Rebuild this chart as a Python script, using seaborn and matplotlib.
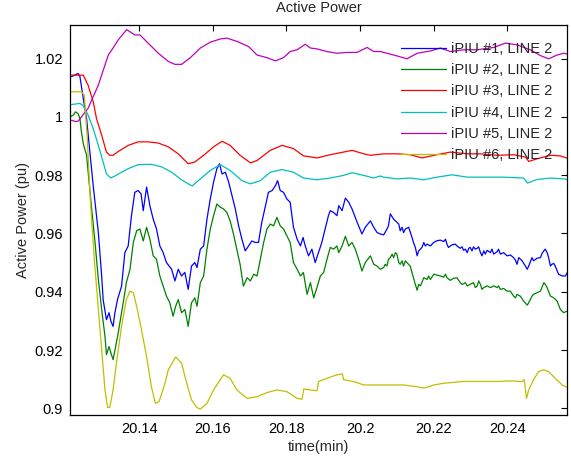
import numpy as np
import pandas as pd
import matplotlib
matplotlib.use("Agg")
import matplotlib.pyplot as plt
import seaborn as sns
from matplotlib.ticker import FormatStrFormatter, MultipleLocator

# traces (time in min, power in pu)
blue_t = [20.1216, 20.1225, 20.1234, 20.1239, 20.1248, 20.1257, 20.1266, 20.1275, 20.1289, 20.1298,
          20.1302, 20.1311, 20.1318, 20.1323, 20.1329, 20.1334, 20.1341, 20.1352, 20.1361, 20.1370,
          20.1379, 20.1388, 20.1397, 20.1405, 20.1411, 20.1420, 20.1429, 20.1438, 20.1447, 20.1456,
          20.1465, 20.1474, 20.1488, 20.1497, 20.1506, 20.1515, 20.1524, 20.1533, 20.1542, 20.1551,
          20.1557, 20.1566, 20.1575, 20.1584, 20.1593, 20.1602, 20.1611, 20.1618, 20.1625, 20.1634,
          20.1643, 20.1652, 20.1661, 20.1670, 20.1679, 20.1688, 20.1697, 20.1706, 20.1715, 20.1724,
          20.1733, 20.1742, 20.1751, 20.1761, 20.1770, 20.1776, 20.1783, 20.1792, 20.1801, 20.1810,
          20.1819, 20.1829, 20.1838, 20.1845, 20.1851, 20.1860, 20.1869, 20.1878, 20.1887, 20.1896,
          20.1905, 20.1914, 20.1919, 20.1928, 20.1937, 20.1942, 20.1951, 20.1960, 20.1969, 20.1978,
          20.1992, 20.2005, 20.2014, 20.2028, 20.2037, 20.2046, 20.2055, 20.2064, 20.2073, 20.2077,
          20.2082, 20.2091, 20.2105, 20.2109, 20.2114, 20.2118, 20.2123, 20.2132, 20.2141, 20.2145,
          20.2150, 20.2155, 20.2159, 20.2164, 20.2168, 20.2173, 20.2177, 20.2182, 20.2191, 20.2200,
          20.2209, 20.2218, 20.2227, 20.2232, 20.2236, 20.2240, 20.2250, 20.2259, 20.2263, 20.2272,
          20.2277, 20.2281, 20.2286, 20.2291, 20.2295, 20.2299, 20.2304, 20.2308, 20.2313, 20.2318,
          20.2322, 20.2327, 20.2331, 20.2336, 20.2340, 20.2345, 20.2354, 20.2358, 20.2363, 20.2372,
          20.2376, 20.2381, 20.2390, 20.2399, 20.2408, 20.2417, 20.2422, 20.2426, 20.2431, 20.2440,
          20.2449, 20.2454, 20.2458, 20.2467, 20.2471, 20.2481, 20.2490, 20.2494, 20.2499, 20.2503,
          20.2508, 20.2512, 20.2517, 20.2521, 20.2526, 20.2530, 20.2539, 20.2549, 20.2558, 20.2562]
blue_p = [1.0138, 1.0143, 1.0149, 1.0138, 1.0063, 0.9994, 0.9879, 0.9764, 0.9603, 0.9454,
          0.9373, 0.9304, 0.9328, 0.9299, 0.9281, 0.9328, 0.9373, 0.9419, 0.9534, 0.9557,
          0.9661, 0.9741, 0.9747, 0.9736, 0.9678, 0.9759, 0.9695, 0.9649, 0.9615, 0.9557,
          0.9534, 0.9500, 0.9477, 0.9437, 0.9477, 0.9454, 0.9466, 0.9408, 0.9488, 0.9500,
          0.9483, 0.9546, 0.9557, 0.9649, 0.9718, 0.9776, 0.9822, 0.9839, 0.9804, 0.9810,
          0.9776, 0.9730, 0.9684, 0.9626, 0.9580, 0.9540, 0.9557, 0.9574, 0.9569, 0.9569,
          0.9638, 0.9690, 0.9741, 0.9747, 0.9764, 0.9781, 0.9747, 0.9741, 0.9718, 0.9707,
          0.9621, 0.9580, 0.9557, 0.9586, 0.9557, 0.9523, 0.9546, 0.9500, 0.9535, 0.9569,
          0.9615, 0.9661, 0.9678, 0.9672, 0.9661, 0.9695, 0.9678, 0.9721, 0.9707, 0.9684,
          0.9638, 0.9598, 0.9621, 0.9643, 0.9621, 0.9603, 0.9598, 0.9595, 0.9615, 0.9626,
          0.9667, 0.9649, 0.9632, 0.9609, 0.9621, 0.9603, 0.9615, 0.9621, 0.9586, 0.9569,
          0.9552, 0.9523, 0.9540, 0.9546, 0.9552, 0.9569, 0.9557, 0.9563, 0.9557, 0.9569,
          0.9575, 0.9577, 0.9572, 0.9580, 0.9563, 0.9552, 0.9561, 0.9563, 0.9557, 0.9549,
          0.9554, 0.9542, 0.9546, 0.9534, 0.9549, 0.9552, 0.9540, 0.9554, 0.9546, 0.9549,
          0.9554, 0.9534, 0.9523, 0.9540, 0.9529, 0.9542, 0.9534, 0.9546, 0.9529, 0.9537,
          0.9546, 0.9529, 0.9534, 0.9523, 0.9526, 0.9517, 0.9508, 0.9494, 0.9517, 0.9506,
          0.9488, 0.9477, 0.9488, 0.9517, 0.9506, 0.9515, 0.9517, 0.9531, 0.9540, 0.9546,
          0.9534, 0.9517, 0.9488, 0.9494, 0.9497, 0.9488, 0.9460, 0.9454, 0.9454, 0.9465]

green_t = [20.1212, 20.1221, 20.1227, 20.1234, 20.1239, 20.1243, 20.1248, 20.1257, 20.1263, 20.1270,
           20.1280, 20.1289, 20.1298, 20.1307, 20.1311, 20.1318, 20.1323, 20.1329, 20.1336, 20.1343,
           20.1352, 20.1361, 20.1365, 20.1375, 20.1384, 20.1393, 20.1402, 20.1411, 20.1420, 20.1429,
           20.1438, 20.1447, 20.1456, 20.1465, 20.1474, 20.1483, 20.1492, 20.1499, 20.1506, 20.1515,
           20.1524, 20.1533, 20.1542, 20.1551, 20.1557, 20.1566, 20.1575, 20.1584, 20.1593, 20.1602,
           20.1611, 20.1620, 20.1629, 20.1638, 20.1647, 20.1656, 20.1665, 20.1674, 20.1683, 20.1693,
           20.1702, 20.1711, 20.1720, 20.1729, 20.1738, 20.1747, 20.1756, 20.1765, 20.1774, 20.1783,
           20.1792, 20.1801, 20.1810, 20.1819, 20.1829, 20.1838, 20.1846, 20.1856, 20.1865, 20.1874,
           20.1883, 20.1892, 20.1901, 20.1910, 20.1919, 20.1928, 20.1937, 20.1942, 20.1951, 20.1960,
           20.1969, 20.1978, 20.1987, 20.1996, 20.2005, 20.2014, 20.2028, 20.2037, 20.2046, 20.2055,
           20.2064, 20.2068, 20.2073, 20.2077, 20.2082, 20.2087, 20.2091, 20.2096, 20.2100, 20.2105,
           20.2109, 20.2114, 20.2118, 20.2123, 20.2127, 20.2136, 20.2141, 20.2145, 20.2150, 20.2155,
           20.2159, 20.2164, 20.2173, 20.2182, 20.2186, 20.2191, 20.2200, 20.2209, 20.2218, 20.2227,
           20.2232, 20.2236, 20.2245, 20.2254, 20.2263, 20.2272, 20.2277, 20.2286, 20.2291, 20.2299,
           20.2308, 20.2313, 20.2318, 20.2322, 20.2327, 20.2331, 20.2336, 20.2345, 20.2354, 20.2363,
           20.2372, 20.2376, 20.2381, 20.2390, 20.2399, 20.2408, 20.2417, 20.2422, 20.2426, 20.2435,
           20.2444, 20.2454, 20.2458, 20.2467, 20.2471, 20.2481, 20.2490, 20.2499, 20.2503, 20.2508,
           20.2517, 20.2526, 20.2535, 20.2544, 20.2553, 20.2562]
green_p = [1.0000, 1.0006, 1.0017, 1.0011, 0.9994, 0.9948, 0.9908, 0.9868, 0.9787, 0.9695,
           0.9569, 0.9442, 0.9339, 0.9247, 0.9184, 0.9212, 0.9190, 0.9167, 0.9212, 0.9259,
           0.9328, 0.9397, 0.9431, 0.9477, 0.9569, 0.9609, 0.9615, 0.9574, 0.9621, 0.9580,
           0.9523, 0.9511, 0.9454, 0.9419, 0.9385, 0.9362, 0.9316, 0.9350, 0.9373, 0.9328,
           0.9339, 0.9281, 0.9362, 0.9379, 0.9350, 0.9431, 0.9454, 0.9546, 0.9615, 0.9661,
           0.9701, 0.9690, 0.9684, 0.9672, 0.9643, 0.9598, 0.9546, 0.9494, 0.9419, 0.9448,
           0.9437, 0.9460, 0.9454, 0.9511, 0.9569, 0.9615, 0.9632, 0.9626, 0.9655, 0.9626,
           0.9615, 0.9592, 0.9569, 0.9500, 0.9477, 0.9454, 0.9466, 0.9391, 0.9431, 0.9379,
           0.9415, 0.9454, 0.9466, 0.9511, 0.9552, 0.9546, 0.9557, 0.9534, 0.9557, 0.9590,
           0.9557, 0.9569, 0.9546, 0.9511, 0.9471, 0.9500, 0.9523, 0.9494, 0.9488, 0.9477,
           0.9483, 0.9494, 0.9488, 0.9511, 0.9517, 0.9529, 0.9517, 0.9534, 0.9529, 0.9500,
           0.9494, 0.9506, 0.9488, 0.9506, 0.9500, 0.9488, 0.9465, 0.9448, 0.9425, 0.9405,
           0.9425, 0.9420, 0.9448, 0.9442, 0.9454, 0.9442, 0.9460, 0.9457, 0.9454, 0.9450,
           0.9460, 0.9448, 0.9439, 0.9446, 0.9448, 0.9431, 0.9425, 0.9431, 0.9420, 0.9425,
           0.9431, 0.9414, 0.9420, 0.9437, 0.9425, 0.9408, 0.9414, 0.9420, 0.9414, 0.9420,
           0.9414, 0.9420, 0.9408, 0.9411, 0.9402, 0.9402, 0.9385, 0.9379, 0.9391, 0.9385,
           0.9368, 0.9354, 0.9362, 0.9385, 0.9391, 0.9397, 0.9402, 0.9431, 0.9425, 0.9414,
           0.9385, 0.9379, 0.9368, 0.9339, 0.9328, 0.9333]

red_t = [20.1216, 20.1248, 20.1261, 20.1275, 20.1284, 20.1298, 20.1311, 20.1320, 20.1329, 20.1343,
         20.1370, 20.1397, 20.1424, 20.1452, 20.1479, 20.1506, 20.1533, 20.1551, 20.1575, 20.1602,
         20.1625, 20.1647, 20.1674, 20.1702, 20.1720, 20.1756, 20.1788, 20.1819, 20.1846, 20.1883,
         20.1919, 20.1955, 20.1978, 20.2010, 20.2028, 20.2064, 20.2100, 20.2136, 20.2168, 20.2209,
         20.2245, 20.2291, 20.2327, 20.2372, 20.2417, 20.2449, 20.2458, 20.2481, 20.2517, 20.2544,
         20.2567]
red_p = [1.0143, 1.0143, 1.0109, 1.0052, 0.9994, 0.9937, 0.9879, 0.9868, 0.9868, 0.9881,
         0.9902, 0.9914, 0.9914, 0.9910, 0.9897, 0.9873, 0.9839, 0.9845, 0.9868, 0.9897,
         0.9916, 0.9902, 0.9868, 0.9842, 0.9850, 0.9885, 0.9902, 0.9891, 0.9866, 0.9859,
         0.9870, 0.9879, 0.9885, 0.9873, 0.9868, 0.9873, 0.9873, 0.9870, 0.9859, 0.9870,
         0.9879, 0.9873, 0.9873, 0.9868, 0.9870, 0.9862, 0.9847, 0.9856, 0.9868, 0.9866,
         0.9856]

cyan_t = [20.1216, 20.1239, 20.1248, 20.1261, 20.1275, 20.1289, 20.1302, 20.1311, 20.1323, 20.1334,
          20.1352, 20.1370, 20.1397, 20.1433, 20.1461, 20.1488, 20.1515, 20.1533, 20.1544, 20.1566,
          20.1593, 20.1620, 20.1647, 20.1679, 20.1702, 20.1729, 20.1756, 20.1788, 20.1819, 20.1846,
          20.1883, 20.1919, 20.1955, 20.1978, 20.2010, 20.2037, 20.2055, 20.2064, 20.2100, 20.2136,
          20.2173, 20.2209, 20.2250, 20.2291, 20.2336, 20.2390, 20.2444, 20.2455, 20.2481, 20.2517,
          20.2553, 20.2567]
cyan_p = [1.0042, 1.0046, 1.0038, 1.0006, 0.9960, 0.9902, 0.9845, 0.9804, 0.9790, 0.9797,
          0.9810, 0.9822, 0.9836, 0.9837, 0.9828, 0.9810, 0.9784, 0.9770, 0.9763, 0.9787,
          0.9816, 0.9836, 0.9816, 0.9781, 0.9770, 0.9781, 0.9810, 0.9819, 0.9810, 0.9790,
          0.9784, 0.9790, 0.9799, 0.9808, 0.9799, 0.9790, 0.9797, 0.9793, 0.9787, 0.9790,
          0.9784, 0.9793, 0.9801, 0.9793, 0.9793, 0.9793, 0.9790, 0.9773, 0.9785, 0.9790,
          0.9787, 0.9784]

magenta_t = [20.1216, 20.1226, 20.1234, 20.1261, 20.1289, 20.1316, 20.1329, 20.1343, 20.1366, 20.1388,
             20.1402, 20.1424, 20.1452, 20.1479, 20.1497, 20.1515, 20.1539, 20.1566, 20.1593, 20.1620,
             20.1638, 20.1665, 20.1697, 20.1720, 20.1747, 20.1770, 20.1792, 20.1810, 20.1829, 20.1851,
             20.1865, 20.1883, 20.1910, 20.1937, 20.1964, 20.1992, 20.2019, 20.2037, 20.2055, 20.2064,
             20.2100, 20.2127, 20.2155, 20.2191, 20.2218, 20.2245, 20.2281, 20.2318, 20.2363, 20.2395,
             20.2426, 20.2462, 20.2490, 20.2512, 20.2535, 20.2553, 20.2566]
magenta_p = [0.9988, 0.9984, 0.9985, 1.0029, 1.0109, 1.0212, 1.0236, 1.0264, 1.0299, 1.0281,
             1.0281, 1.0253, 1.0218, 1.0190, 1.0180, 1.0180, 1.0203, 1.0236, 1.0256, 1.0267,
             1.0270, 1.0259, 1.0241, 1.0212, 1.0203, 1.0192, 1.0203, 1.0224, 1.0230, 1.0249,
             1.0236, 1.0233, 1.0224, 1.0218, 1.0221, 1.0221, 1.0238, 1.0224, 1.0224, 1.0221,
             1.0209, 1.0199, 1.0218, 1.0226, 1.0236, 1.0224, 1.0230, 1.0230, 1.0238, 1.0253,
             1.0247, 1.0230, 1.0210, 1.0199, 1.0212, 1.0218, 1.0215]

yellow_t = [20.1216, 20.1243, 20.1251, 20.1259, 20.1267, 20.1278, 20.1289, 20.1298, 20.1307, 20.1314,
            20.1320, 20.1329, 20.1338, 20.1352, 20.1365, 20.1375, 20.1384, 20.1393, 20.1406, 20.1420,
            20.1433, 20.1444, 20.1454, 20.1470, 20.1479, 20.1499, 20.1515, 20.1529, 20.1542, 20.1556,
            20.1566, 20.1584, 20.1602, 20.1629, 20.1647, 20.1665, 20.1693, 20.1720, 20.1747, 20.1774,
            20.1801, 20.1829, 20.1842, 20.1847, 20.1865, 20.1883, 20.1887, 20.1910, 20.1937, 20.1952,
            20.1955, 20.1982, 20.2010, 20.2046, 20.2082, 20.2118, 20.2155, 20.2173, 20.2200, 20.2227,
            20.2281, 20.2327, 20.2372, 20.2408, 20.2440, 20.2446, 20.2452, 20.2458, 20.2471, 20.2485,
            20.2499, 20.2512, 20.2530, 20.2549, 20.2563]
yellow_p = [1.0086, 1.0086, 1.0074, 0.9925, 0.9718, 0.9511, 0.9339, 0.9201, 0.9063, 0.9003,
            0.9003, 0.9063, 0.9155, 0.9281, 0.9373, 0.9402, 0.9397, 0.9350, 0.9270, 0.9178,
            0.9074, 0.9017, 0.9023, 0.9086, 0.9132, 0.9176, 0.9155, 0.9086, 0.9029, 0.9003,
            0.8997, 0.9017, 0.9063, 0.9115, 0.9103, 0.9063, 0.9034, 0.9040, 0.9054, 0.9063,
            0.9057, 0.9034, 0.9031, 0.9066, 0.9063, 0.9060, 0.9092, 0.9103, 0.9115, 0.9118,
            0.9098, 0.9092, 0.9080, 0.9080, 0.9080, 0.9080, 0.9074, 0.9069, 0.9080, 0.9086,
            0.9092, 0.9092, 0.9092, 0.9094, 0.9092, 0.9098, 0.9034, 0.9063, 0.9098, 0.9126,
            0.9132, 0.9126, 0.9103, 0.9080, 0.9072]

labels = ["iPIU #1, LINE 2", "iPIU #2, LINE 2", "iPIU #3, LINE 2",
          "iPIU #4, LINE 2", "iPIU #5, LINE 2", "iPIU #6, LINE 2"]
colors = ["#0000ff", "#008000", "#ff0000", "#00bfbf", "#bf00bf", "#bfbf00"]

traces = [(blue_t, blue_p), (green_t, green_p), (red_t, red_p),
          (cyan_t, cyan_p), (magenta_t, magenta_p), (yellow_t, yellow_p)]
frames = []
for lab, (t, p) in zip(labels, traces):
    frames.append(pd.DataFrame({"time": t, "power": p, "unit": lab}))
df = pd.concat(frames, ignore_index=True)

sns.set_style("white")
plt.rcParams["font.family"] = ["Liberation Sans", "DejaVu Sans"]

fig = plt.figure(figsize=(5.71, 4.57), dpi=100)
ax = fig.add_axes([0.1226, 0.0919, 0.8704, 0.8534])

sns.lineplot(data=df, x="time", y="power", hue="unit", hue_order=labels,
             palette=colors, estimator=None, sort=False, linewidth=0.9, ax=ax)

ax.set_xlim(20.1212, 20.2562)
ax.set_ylim(0.8977, 1.0315)
ax.xaxis.set_major_locator(MultipleLocator(0.02))
ax.yaxis.set_major_locator(MultipleLocator(0.02))
ax.xaxis.set_major_formatter(FormatStrFormatter("%g"))
ax.yaxis.set_major_formatter(FormatStrFormatter("%g"))
ax.tick_params(direction="in", top=True, right=True, length=4, width=0.8,
               labelsize=10.5, colors="black", pad=5)
for s in ax.spines.values():
    s.set_visible(True)
    s.set_color("black")
    s.set_linewidth(0.9)

ax.set_title("Active Power", fontsize=10.5, pad=9)
ax.set_xlabel("time(min)", fontsize=10.5, labelpad=3)
ax.set_ylabel("Active Power (pu)", fontsize=10.5, labelpad=3)

handles, _ = ax.get_legend_handles_labels()
ax.legend(handles[:6], labels, loc="upper right", bbox_to_anchor=(0.979, 0.968),
          frameon=False, fontsize=10.5, handlelength=3.1, handletextpad=0.35,
          labelspacing=0.5, borderaxespad=0, borderpad=0.3)

fig.savefig("out.png", dpi=100)
